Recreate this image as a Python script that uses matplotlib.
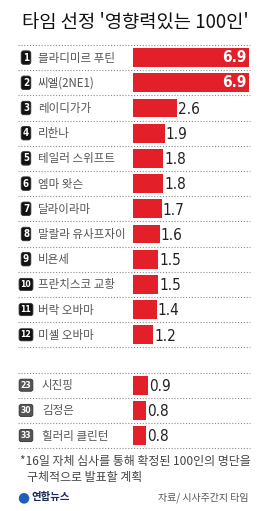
import matplotlib
matplotlib.use("Agg")
import matplotlib.pyplot as plt

# Korean font for all text
plt.rcParams['font.family'] = ['Noto Sans CJK KR', 'DejaVu Sans']

# Data
ranks = ["1", "2", "3", "4", "5", "6", "7", "8", "9", "10", "11", "12", "23", "30", "33"]
names = ["블라디미르 푸틴", "씨엘(2NE1)", "레이디가가", "리한나", "테일러 스위프트", "엠마 왓슨",
         "달라이라마", "말랄라 유사프자이", "비욘세", "프란치스코 교황", "버락 오바마", "미셸 오바마",
         "시진핑", "김정은", "힐러리 클린턴"]
values = [6.9, 6.9, 2.6, 1.9, 1.8, 1.8, 1.7, 1.6, 1.5, 1.5, 1.4, 1.2, 0.9, 0.8, 0.8]
# row slots (slot 12 left empty between the top 12 and the rest)
rows = list(range(12)) + [13, 14, 15]

W, H = 262, 511
bar_x0 = 133      # px where bars start
px_per_unit = 16.8
top_sep = 45      # px of first dotted line
pitch = 25.2      # px per row

red = "#e3202a"

fig = plt.figure(figsize=(W / 100, H / 100), dpi=100)
ax = fig.add_axes([0, 0, 1, 1])
ax.set_xlim(-bar_x0 / px_per_unit, (W - bar_x0) / px_per_unit)
ax.set_ylim((H - top_sep) / pitch - 0.5, -top_sep / pitch - 0.5)
ax.axis("off")

# bars
ax.barh(rows, values, height=0.74, color=red, left=0)

# dotted separators
for s in range(17):
    ax.axhline(s - 0.5, xmin=18 / W, xmax=250 / W, color="#8a8a8a",
               linestyle=(0, (1, 1.6)), linewidth=0.8)

tr = ax.get_yaxis_transform()

for i, (rk, nm, v, r) in enumerate(zip(ranks, names, values, rows)):
    low = i >= 12
    # rank badge
    ax.text(26 / W, r, rk, transform=tr, ha="center", va="center",
            fontsize=7 if len(rk) == 1 else 6.2, fontweight="bold",
            color="white", family=['DejaVu Sans'], stretch="condensed",
            bbox=dict(boxstyle="round,pad=0.18,rounding_size=0.25",
                      fc="#555555" if low else "#111111", ec="#333333", lw=0.6))
    # name
    ax.text((42 if low else 38) / W, r + 0.02, nm, transform=tr, ha="left", va="center",
            fontsize=8.3, color="#555555")
    # value label
    if v > 5:
        ax.text(v - 0.12, r, f"{v}", ha="right", va="center", fontsize=11,
                color="white", fontweight="bold", family=['DejaVu Sans'],
                stretch="condensed")
    else:
        ax.text(v + 0.05, r + 0.05, f"{v}", ha="left", va="center", fontsize=11,
                color="#222222", family=['DejaVu Sans'], stretch="condensed")

# title
fig.text(22 / W, 1 - 22 / H, "타임 선정 '영향력있는 100인'", ha="left", va="center",
         fontsize=13.5, fontweight="medium", color="#111111")

# footnote
fig.text(20 / W, 1 - 461 / H, "*16일 자체 심사를 통해 확정된 100인의 명단을",
         ha="left", va="center", fontsize=8.6, color="#444444")
fig.text(27 / W, 1 - 478 / H, "구체적으로 발표할 계획",
         ha="left", va="center", fontsize=8.6, color="#444444")

# logo and source
fig.text(23.5 / W, 1 - 497 / H, "●", ha="center", va="center", fontsize=10,
         color="#1f5fb8", family=['DejaVu Sans'])
fig.text(31 / W, 1 - 497 / H, "연합뉴스", ha="left", va="center", fontsize=7.5,
         fontweight="bold", color="#1a2a5a")
fig.text(248 / W, 1 - 498 / H, "자료/ 시사주간지 타임", ha="right", va="center",
         fontsize=7.2, color="#555555", style="italic")

fig.savefig("out.png", dpi=100)
